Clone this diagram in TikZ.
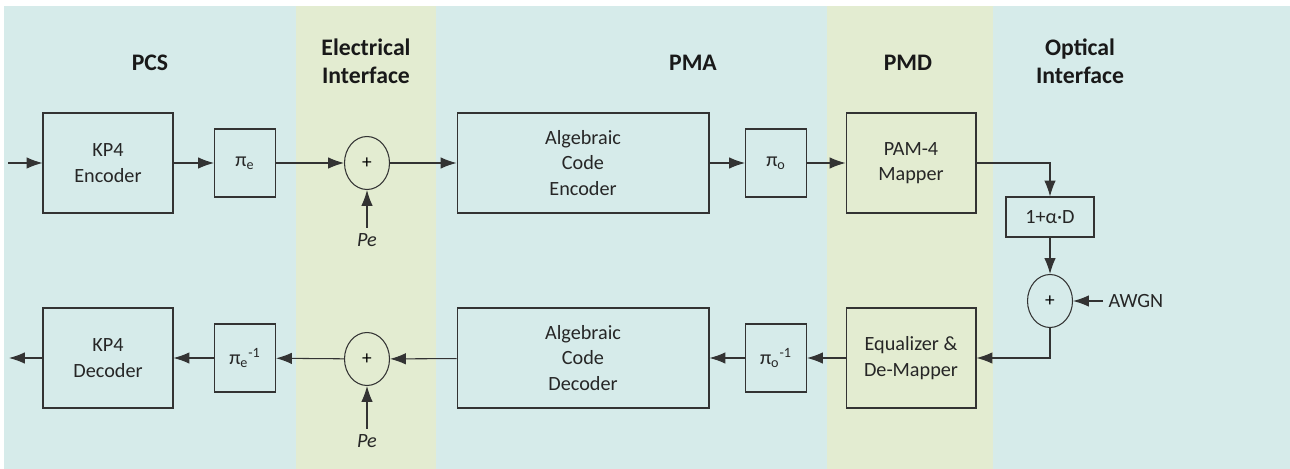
\documentclass[tikz,border=0pt]{standalone}
\usepackage{fontspec}
\setmainfont{Carlito}
\usetikzlibrary{arrows.meta,shapes.geometric}
\definecolor{bandblue}{RGB}{214,235,234}
\definecolor{bandgreen}{RGB}{227,236,209}

\tikzset{
  blk/.style={draw=black!80, line width=0.6pt, align=center, text=black!85,
    font=\fontsize{11.5}{14.5}\selectfont, minimum width=2.6cm, minimum height=2cm, inner sep=0pt},
  perm/.style={blk, minimum width=1.22cm, minimum height=1.36cm},
  sumnode/.style={draw=black!80, line width=0.6pt, ellipse, minimum width=0.9cm,
    minimum height=1.06cm, inner sep=0pt, font=\fontsize{11}{12}\selectfont},
  head/.style={align=center, font=\bfseries\fontsize{13.5}{16}\selectfont, text=black!90},
  lbl/.style={font=\fontsize{11.5}{12}\selectfont, text=black!85, inner sep=3pt},
  arr/.style={-{Latex[length=9pt,width=6.5pt]}, line width=0.6pt, draw=black!80}
}

\begin{document}
\begin{tikzpicture}[x=0.02cm,y=-0.02cm]
    \useasboundingbox (0,0) rectangle (1290,469);
    \fill[bandblue] (4,6) rectangle (1290,469);
    \fill[bandgreen] (296,6) rectangle (436,469);
    \fill[bandgreen] (827,6) rectangle (993,469);

    \node[head] (pcs) at (150,63) {PCS};
    \node[head] (elec) at (366,61) {Electrical\\Interface};
    \node[head] (pma) at (693,63) {PMA};
    \node[head] (pmd) at (908,63) {PMD};
    \node[head] (opt) at (1080,61) {Optical\\Interface};

    \coordinate (in) at (8,163);
    \node[blk] (kp4enc) at (108,163) {KP4\\Encoder};
    \node[perm] (pie) at (245,163) {π\textsubscript{e}};
    \node[sumnode] (sumtop) at (367,163) {+};
    \node[lbl, font=\itshape\fontsize{11.5}{12}\selectfont] (petop) at (367,240) {Pe};
    \node[blk, minimum width=5.04cm] (algenc) at (583,163) {Algebraic\\Code\\Encoder};
    \node[perm] (pio) at (776,163) {π\textsubscript{o}};
    \node[blk] (pam) at (911,163) {PAM-4\\Mapper};
    \node[blk, minimum width=1.76cm, minimum height=0.8cm] (isi) at (1050,217) {1+α·D};
    \node[sumnode] (sumch) at (1050,301) {+};
    \node[lbl, anchor=west] (awgn) at (1103,301) {AWGN};

    \node[blk] (eq) at (911,358) {Equalizer \&\\De-Mapper};
    \node[perm] (pioinv) at (776,358) {π\textsubscript{o}\textsuperscript{-1}};
    \node[blk, minimum width=5.04cm] (algdec) at (583,358) {Algebraic\\Code\\Decoder};
    \node[sumnode] (sumbot) at (367,359) {+};
    \node[lbl, font=\itshape\fontsize{11.5}{12}\selectfont] (pebot) at (367,441) {Pe};
    \node[perm] (pieinv) at (245,358) {π\textsubscript{e}\textsuperscript{-1}};
    \node[blk] (kp4dec) at (108,358) {KP4\\Decoder};
    \coordinate (out) at (9,358);

    \draw[arr] (in) -- (kp4enc);
    \draw[arr] (kp4enc) -- (pie);
    \draw[arr] (pie) -- (sumtop);
    \draw[arr] (petop) -- (sumtop);
    \draw[arr] (sumtop) -- (algenc);
    \draw[arr] (algenc) -- (pio);
    \draw[arr] (pio) -- (pam);
    \draw[arr] (pam.east) -| (isi.north);
    \draw[arr] (isi) -- (sumch);
    \draw[arr] (awgn) -- (sumch);
    \draw[arr] (sumch.south) |- (eq.east);
    \draw[arr] (eq) -- (pioinv);
    \draw[arr] (pioinv) -- (algdec);
    \draw[arr] (algdec) -- (sumbot);
    \draw[arr] (pebot) -- (sumbot);
    \draw[arr] (sumbot) -- (pieinv);
    \draw[arr] (pieinv) -- (kp4dec);
    \draw[arr] (kp4dec) -- (out);
\end{tikzpicture}
\end{document}
